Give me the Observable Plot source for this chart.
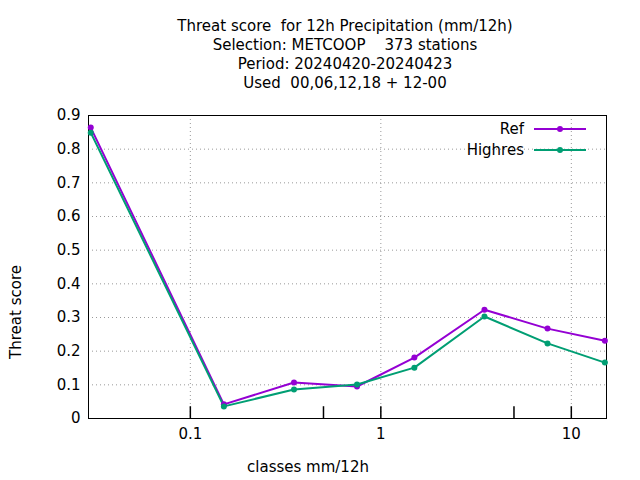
<!DOCTYPE html>
<html><head><meta charset="utf-8">
<script src="https://cdn.jsdelivr.net/npm/d3@7"></script>
<script src="https://cdn.jsdelivr.net/npm/@observablehq/plot@0.6"></script>
<style>
body{margin:0;background:#fff;font-family:"DejaVu Sans",sans-serif;}
#wrap{position:relative;width:640px;height:480px;}
#title{height:100px;box-sizing:border-box;padding-top:17px;padding-left:50px;text-align:center;font-size:15px;line-height:19px;color:#000;}
#legend{position:absolute;top:118px;left:400px;font-size:15px;}
.row{display:flex;align-items:center;height:21px;justify-content:flex-end;width:186px;}
.row span{margin-right:10px;}
</style></head>
<body>
<div id="wrap">
<div id="title">Threat score &nbsp;for 12h Precipitation (mm/12h)<br>Selection: METCOOP &nbsp;&nbsp;&nbsp;373 stations<br>Period: 20240420-20240423<br>Used &nbsp;00,06,12,18 + 12-00</div>
<div id="chart"></div>
<div id="legend">
<div class="row"><span>Ref</span><svg width="52" height="10"><line x1="0" y1="5" x2="52" y2="5" stroke="#9400d3" stroke-width="2"/><circle cx="26" cy="5" r="3" fill="#9400d3"/></svg></div>
<div class="row"><span>Highres</span><svg width="52" height="10"><line x1="0" y1="5" x2="52" y2="5" stroke="#009e73" stroke-width="2"/><circle cx="26" cy="5" r="3" fill="#009e73"/></svg></div>
</div>
</div>
<script>
const classes = [0.03, 0.15, 0.35, 0.75, 1.5, 3.5, 7.5, 15]
const ref = [0.864, 0.042, 0.107, 0.095, 0.181, 0.323, 0.267, 0.231]
const highres = [0.849, 0.036, 0.086, 0.101, 0.151, 0.303, 0.223, 0.166]
const series = [{name: 'Ref', values: ref, color: '#9400d3'}, {name: 'Highres', values: highres, color: '#009e73'}]
const data = series.flatMap(s => classes.map((c, i) => ({x: c, y: s.values[i], name: s.name})))
const yTicks = d3.range(0, 10).map(d => d / 10)
const xTicks = [0.1, 1, 10]
const xMinor = [0.5, 5]

let chart = Plot.plot({
  width: 640,
  height: 380,
  marginTop: 15,
  marginLeft: 88,
  marginRight: 34,
  marginBottom: 62,
  style: {fontFamily: '"DejaVu Sans", sans-serif', fontSize: '15px', color: '#000'},
  x: {type: 'log', domain: [0.0292, 15.3], label: null},
  y: {type: 'linear', domain: [0, 0.9], label: null},
  color: {domain: series.map(s => s.name), range: series.map(s => s.color)},
  marks: [
    Plot.gridX(xTicks, {stroke: '#999', strokeOpacity: 1, strokeDasharray: '1,3'}),
    Plot.gridY(yTicks.slice(1), {stroke: '#999', strokeOpacity: 1, strokeDasharray: '1,3'}),
    Plot.axisX(xTicks, {tickSize: 0, tickPadding: 10, fontSize: 15, tickFormat: d => String(d)}),
    Plot.ruleX(xTicks.concat(xMinor), {x: d => d, y1: 0, y2: 0.035, stroke: '#000', strokeWidth: 1.5}),
    Plot.axisY(yTicks, {tickSize: 0, tickPadding: 8, fontSize: 15, tickFormat: d => d === 0 ? '0' : d.toFixed(1)}),
    Plot.frame({stroke: '#000'}),
    Plot.line(data, {x: 'x', y: 'y', stroke: 'name', z: 'name', strokeWidth: 2}),
    Plot.dot(data, {x: 'x', y: 'y', fill: 'name', r: 3})
  ]
})
d3.select('#chart').append(() => chart)

d3.select(chart).append('text').attr('x', 640 - 332).attr('y', 372).attr('text-anchor', 'middle').attr('font-size', 15).text('classes mm/12h')
d3.select(chart).append('text').attr('transform', 'translate(21,212) rotate(-90)').attr('text-anchor', 'middle').attr('font-size', 15).text('Threat score')
</script>
</body></html>
